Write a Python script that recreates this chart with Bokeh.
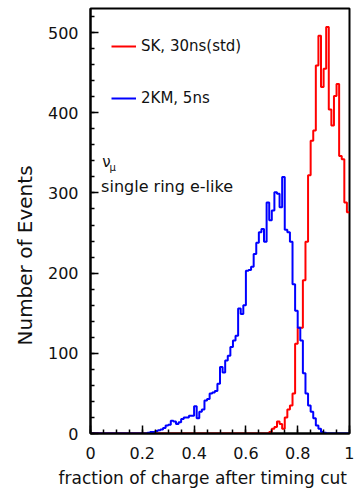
import numpy as np
from bokeh.plotting import figure
from bokeh.models import Range1d, FixedTicker, Label, Legend, LegendItem, Title
from bokeh.embed import file_html
from bokeh.resources import INLINE

# ---- data (histograms, 100 bins of width 0.01 from 0 to 1) ----
bin_edges = np.linspace(0.0, 1.0, 101)

blue_2km_5ns = [0] * 22 + [
    1, 2, 2, 3, 4, 5, 7, 10,                      # 0.22 - 0.29
    11, 16, 15, 12, 14, 18, 20, 20, 22, 22,       # 0.30 - 0.39
    34, 19, 27, 30, 41, 43, 50, 51, 53, 62,       # 0.40 - 0.49
    83, 76, 91, 97, 108, 116, 122, 156, 149, 160, # 0.50 - 0.59
    203, 204, 208, 224, 238, 251, 255, 239, 288, 266,  # 0.60 - 0.69
    278, 301, 299, 282, 320, 254, 251, 239, 186, 153,  # 0.70 - 0.79
    132, 116, 75, 50, 35, 27, 19, 10, 6, 2,            # 0.80 - 0.89
    1, 0, 0, 0, 0, 0, 0, 0, 0, 0,                      # 0.90 - 0.99
]

red_sk_30ns = [0] * 69 + [
    2,                                                  # 0.69
    6, 8, 15, 12, 6, 20, 30, 35, 50, 112,               # 0.70 - 0.79
    132, 132, 191, 239, 322, 365, 378, 459, 496, 432,   # 0.80 - 0.89
    455, 507, 404, 384, 421, 436, 346, 342, 288, 276,   # 0.90 - 0.99
]

x_ticks = [0, 0.2, 0.4, 0.6, 0.8, 1]
x_tick_labels = ["0", "0.2", "0.4", "0.6", "0.8", "1"]
y_ticks = [0, 100, 200, 300, 400, 500]

FONT = "DejaVu Sans"
INK = "#111111"

p = figure(width=354, height=495, output_backend="svg", toolbar_location=None,
           x_range=Range1d(0, 1), y_range=Range1d(0, 530),
           min_border_left=90, min_border_right=5, min_border_top=8, min_border_bottom=62)
p.background_fill_color = "white"
p.border_fill_color = "white"
p.grid.visible = False
p.outline_line_color = "black"
p.outline_line_width = 2

red_y = list(red_sk_30ns) + [red_sk_30ns[-1]]
blue_y = list(blue_2km_5ns) + [blue_2km_5ns[-1]]
r_red = p.step(x=bin_edges, y=red_y, mode="after", line_color="#ff0000", line_width=2)
r_blue = p.step(x=bin_edges, y=blue_y, mode="after", line_color="#0000ff", line_width=2)

# axes
p.xaxis.ticker = FixedTicker(ticks=x_ticks, minor_ticks=list(np.round(np.arange(0, 1.001, 0.05), 2)))
p.xaxis.major_label_overrides = {t: s for t, s in zip(x_ticks, x_tick_labels)}
p.yaxis.ticker = FixedTicker(ticks=y_ticks, minor_ticks=list(range(0, 521, 20)))
for ax in (p.xaxis[0], p.yaxis[0]):
    ax.axis_line_width = 2
    ax.axis_line_color = "black"
    ax.major_tick_in = 8
    ax.major_tick_out = 0
    ax.minor_tick_in = 4
    ax.minor_tick_out = 0
    ax.major_tick_line_width = 1.5
    ax.minor_tick_line_width = 1.5
    ax.major_label_text_font = FONT
    ax.major_label_text_font_size = "16px"
    ax.major_label_text_color = INK
p.xaxis.major_label_standoff = 13
p.yaxis.major_label_standoff = 12

# axis titles
p.add_layout(Title(text="fraction of charge after timing cut", align="left", offset=-32,
                   standoff=8, text_font=FONT, text_font_size="17px",
                   text_font_style="normal", text_color=INK), "below")
p.add_layout(Title(text="Number of Events", align="left", offset=88,
                   standoff=16, text_font=FONT, text_font_size="20px",
                   text_font_style="normal", text_color=INK), "left")

# annotations
p.add_layout(Label(x=0.045, y=339, text="ν", text_font=FONT, text_font_size="15px",
                   text_align="left", text_baseline="middle", text_color=INK))
p.add_layout(Label(x=0.073, y=332, text="μ", text_font=FONT, text_font_size="10px",
                   text_align="left", text_baseline="middle", text_color=INK))
p.add_layout(Label(x=0.041, y=308, text="single ring e-like", text_font=FONT,
                   text_font_size="16px", text_align="left", text_baseline="middle",
                   text_color=INK))

legend = Legend(items=[LegendItem(label="SK, 30ns(std)", renderers=[r_red]),
                       LegendItem(label="2KM, 5ns", renderers=[r_blue])],
                location="top_left", margin=21, padding=10, spacing=18,
                glyph_height=34, label_height=34, glyph_width=25, label_standoff=5,
                label_text_font=FONT, label_text_font_size="15px",
                label_text_color=INK,
                border_line_color=None, background_fill_alpha=0)
p.add_layout(legend)

open("out.html", "w").write(file_html(p, INLINE))
